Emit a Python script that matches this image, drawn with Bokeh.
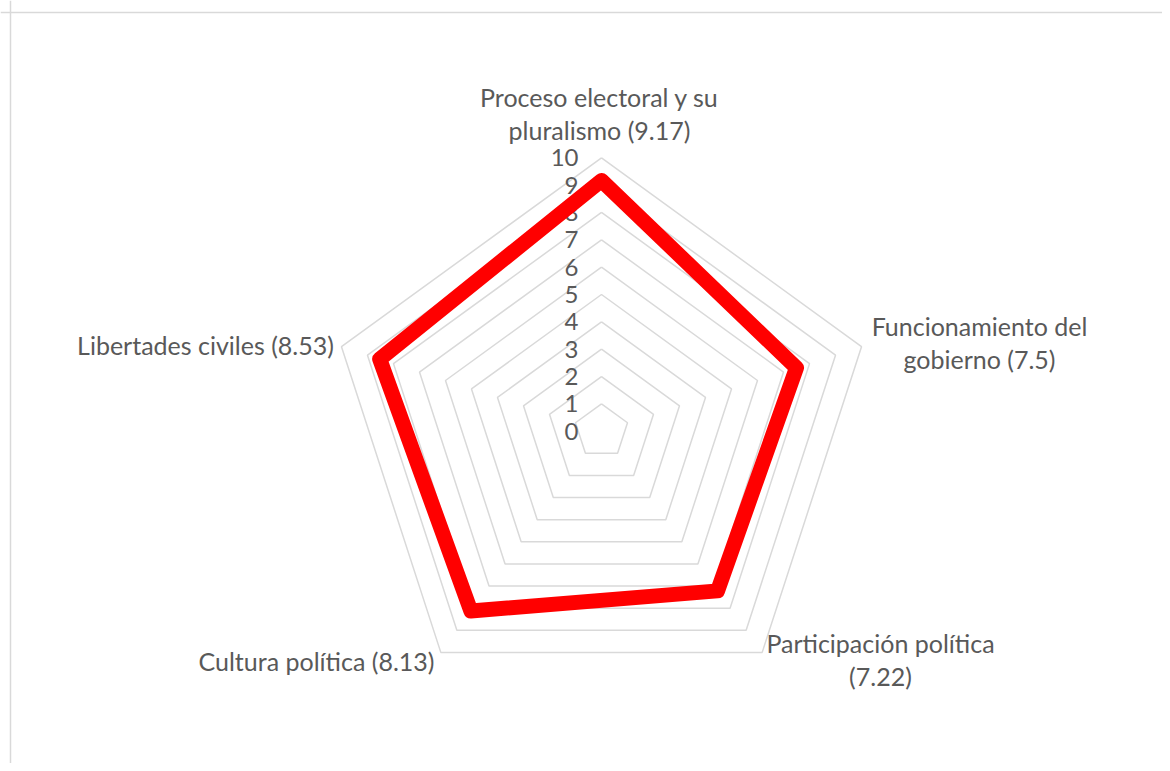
import math
from bokeh.plotting import figure
from bokeh.models import Range1d, Span
from bokeh.embed import file_html
from bokeh.resources import INLINE
from bokeh.core.properties import value

# ---- data ----
categories = [
    "Proceso electoral y su\npluralismo (9.17)",
    "Funcionamiento del\ngobierno (7.5)",
    "Participación política\n(7.22)",
    "Cultura política (8.13)",
    "Libertades civiles (8.53)",
]
scores = [9.17, 7.5, 7.22, 8.13, 8.53]
tick_values = list(range(0, 11))
tick_labels = [str(t) for t in tick_values]

# ---- layout (figure pixel coordinates, y downward) ----
W, H = 1162, 763
CX, CY = 601.0, 430.7
UNIT = 27.34            # pixels per score unit
FONT = "Lato"
FS_LAB = "25px"
FS_TICK = "24px"
TXT = "#595959"
GRID = "#d9d9d9"
RED = "#ff0000"
LINE_GAP = 33
# label anchors: (center x, first line middle y)
label_pos = [(599, 96), (979, 325), (880, 642), (316, 660), (205, 344)]

n = len(categories)
angles = [math.pi / 2 - 2 * math.pi * i / n for i in range(n)]


def pt(r, a):
    return CX + r * UNIT * math.cos(a), CY - r * UNIT * math.sin(a)


p = figure(width=W, height=H, output_backend="svg", toolbar_location=None,
           x_range=Range1d(0, W), y_range=Range1d(H, 0), min_border=0)
p.axis.visible = False
p.grid.visible = False
p.outline_line_color = None
p.background_fill_color = "white"
p.border_fill_color = "white"

# chart border (top and left visible)
p.add_layout(Span(location=12, dimension="width", line_color=GRID, line_width=1.5))
p.add_layout(Span(location=10, dimension="height", line_color=GRID, line_width=1.5))

# rings
xs, ys = [], []
for t in tick_values[1:]:
    pts = [pt(t, a) for a in angles] + [pt(t, angles[0])]
    xs.append([q[0] for q in pts])
    ys.append([q[1] for q in pts])
p.multi_line(xs, ys, line_color=GRID, line_width=1.5)

# tick labels
tx = [CX - 23] * len(tick_values)
ty = [CY - t * UNIT for t in tick_values]
p.text(tx, ty, text=tick_labels, text_align="right", text_baseline="middle",
       text_font=value(FONT), text_font_size=FS_TICK, text_color=TXT)

# data polygon
dp = [pt(s, a) for s, a in zip(scores, angles)]
p.patch([q[0] for q in dp], [q[1] for q in dp], fill_color=None,
        line_color=RED, line_width=15, line_join="round")

# category labels
lx, ly, lt = [], [], []
for cat, (x0, y0) in zip(categories, label_pos):
    for k, line in enumerate(cat.split("\n")):
        lx.append(x0)
        ly.append(y0 + k * LINE_GAP)
        lt.append(line)
p.text(lx, ly, text=lt, text_align="center", text_baseline="middle",
       text_font=value(FONT), text_font_size=FS_LAB, text_color=TXT)

open("out.html", "w").write(file_html(p, INLINE))
